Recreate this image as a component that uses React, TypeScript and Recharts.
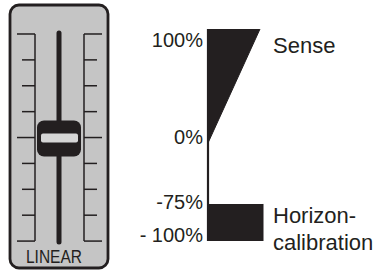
import React from 'react';
import {
  ComposedChart,
  Area,
  Scatter,
  XAxis,
  YAxis,
  ReferenceArea,
  ReferenceLine,
  LabelList,
  Label,
  Rectangle,
} from 'recharts';

// ---- slider (left panel) ----
const sliderTicks = [100, 75, 50, 25, 0, -25, -50, -75, -100];
const majorSliderTicks = [100, 0, -100];
const knobPosition = 0;
const sliderLabel = 'LINEAR';

// ---- range diagram (right) ----
const rangeLabels = ['100%', '0%', '-75%', '- 100%'];
const rangeLabelPositions = [90.4, 5, -52, -81];
const sensePositions = [100, 0];
const senseWidths = [52, 0];
const horizonPositions = [-53.5, -86];
const horizonWidths = [55, 55];
const seriesNames = ['Sense', 'Horizon-', 'calibration'];

const INK = '#231f20';
const FONT = '"Liberation Sans", Arial, Helvetica, sans-serif';

const knobData = [{ x: 49, y: knobPosition }];

const rangeData = [
  ...sensePositions.map((p, i) => ({ pos: p, sense: senseWidths[i] })),
  ...horizonPositions.map((p, i) => ({ pos: p, horizon: horizonWidths[i] })),
];

const RoundRect = (radius: number) => (props: any) => <Rectangle {...props} radius={radius} />;

const KnobShape = (props: any) => {
  const { cx, cy } = props;
  if (cx == null || cy == null) return null;
  return (
    <g>
      <rect x={cx - 22} y={cy - 17} width={44} height={36} rx={7} ry={7} fill={INK} />
      <rect x={cx - 18} y={cy - 4} width={37} height={9} rx={2} ry={2} fill="#d6d6d6" />
    </g>
  );
};

const sliderLabelContent = (props: any) => {
  const vb = props.viewBox || {};
  const cx = vb.x + vb.width / 2;
  const base = vb.y + vb.height - 5;
  return (
    <text
      x={cx}
      y={base}
      textAnchor="middle"
      fill={INK}
      fontSize={18}
      fontFamily={FONT}
      textLength={56}
      lengthAdjust="spacingAndGlyphs"
    >
      {sliderLabel}
    </text>
  );
};

const senseLabel = (props: any) => {
  const { x, y, index } = props;
  if (index !== 0) return null;
  return (
    <text x={x + 13} y={y + 24} fill={INK} fontSize={22} fontFamily={FONT}>
      {seriesNames[0]}
    </text>
  );
};

const horizonLabel = (props: any) => {
  const { x, y, index } = props;
  if (index !== 2) return null;
  return (
    <g>
      <text x={x + 10} y={y + 19} fill={INK} fontSize={22} fontFamily={FONT}>
        {seriesNames[1]}
      </text>
      <text x={x + 10} y={y + 46} fill={INK} fontSize={22} fontFamily={FONT}>
        {seriesNames[2]}
      </text>
    </g>
  );
};

export default function App() {
  return (
    <div style={{ position: 'fixed', left: 0, top: 0, width: 387, height: 271, background: '#fff' }}>
      <div style={{ position: 'absolute', left: 0, top: 0 }}>
        <ComposedChart
          width={120}
          height={271}
          margin={{ top: 5, right: 10, bottom: 3, left: 10 }}
        >
          <XAxis type="number" dataKey="x" domain={[0, 100]} hide />
          <YAxis type="number" dataKey="y" domain={[-126, 128]} hide />
          <ReferenceArea
            x1={0}
            x2={98}
            y1={-126}
            y2={128}
            fill="#c5c5c5"
            fillOpacity={1}
            stroke={INK}
            strokeWidth={2.8}
            shape={RoundRect(9)}
            ifOverflow="visible"
          />
          <ReferenceArea
            x1={16}
            x2={72}
            y1={-126}
            y2={-100}
            fill="none"
            stroke="none"
            ifOverflow="visible"
          >
            <Label content={sliderLabelContent} />
          </ReferenceArea>
          <ReferenceLine
            segment={[{ x: 25, y: 100 }, { x: 25, y: -100 }]}
            stroke={INK}
            strokeWidth={1.5}
            ifOverflow="visible"
          />
          <ReferenceLine
            segment={[{ x: 74, y: 100 }, { x: 74, y: -100 }]}
            stroke={INK}
            strokeWidth={1.5}
            ifOverflow="visible"
          />
          {sliderTicks.map((v) => (
            <ReferenceLine
              key={`l${v}`}
              segment={[{ x: majorSliderTicks.includes(v) ? 7 : 12, y: v }, { x: 25, y: v }]}
              stroke={INK}
              strokeWidth={1.5}
              ifOverflow="visible"
            />
          ))}
          {sliderTicks.map((v) => (
            <ReferenceLine
              key={`r${v}`}
              segment={[{ x: 74, y: v }, { x: majorSliderTicks.includes(v) ? 92 : 87, y: v }]}
              stroke={INK}
              strokeWidth={1.5}
              ifOverflow="visible"
            />
          ))}
          <ReferenceLine
            segment={[{ x: 49, y: 101 }, { x: 49, y: -101 }]}
            stroke={INK}
            strokeWidth={5}
            strokeLinecap="round"
            ifOverflow="visible"
          />
          <Scatter
            data={knobData}
            dataKey="y"
            shape={KnobShape}
            isAnimationActive={false}
          />
        </ComposedChart>
      </div>
      <div style={{ position: 'absolute', left: 120, top: 0 }}>
        <ComposedChart
          layout="vertical"
          width={267}
          height={271}
          data={rangeData}
          margin={{ top: 29, right: 79, bottom: 30, left: 0 }}
        >
          <XAxis type="number" domain={[0, 100]} hide />
          <YAxis
            type="number"
            dataKey="pos"
            domain={[-86, 100]}
            reversed
            ticks={rangeLabelPositions}
            interval={0}
            tickFormatter={(v: number) => rangeLabels[rangeLabelPositions.indexOf(v)]}
            width={88}
            tickLine={false}
            tickSize={0}
            tickMargin={5}
            axisLine={{ stroke: INK, strokeWidth: 2.2 }}
            tick={{ fill: INK, fontSize: 20, fontFamily: FONT }}
            allowDataOverflow
          />
          <Area
            type="linear"
            dataKey="sense"
            fill={INK}
            fillOpacity={1}
            stroke={INK}
            strokeWidth={1}
            isAnimationActive={false}
            connectNulls={false}
          >
            <LabelList dataKey="sense" content={senseLabel} />
          </Area>
          <Area
            type="linear"
            dataKey="horizon"
            fill={INK}
            fillOpacity={1}
            stroke={INK}
            strokeWidth={1}
            isAnimationActive={false}
            connectNulls={false}
          >
            <LabelList dataKey="horizon" content={horizonLabel} />
          </Area>
        </ComposedChart>
      </div>
    </div>
  );
}
